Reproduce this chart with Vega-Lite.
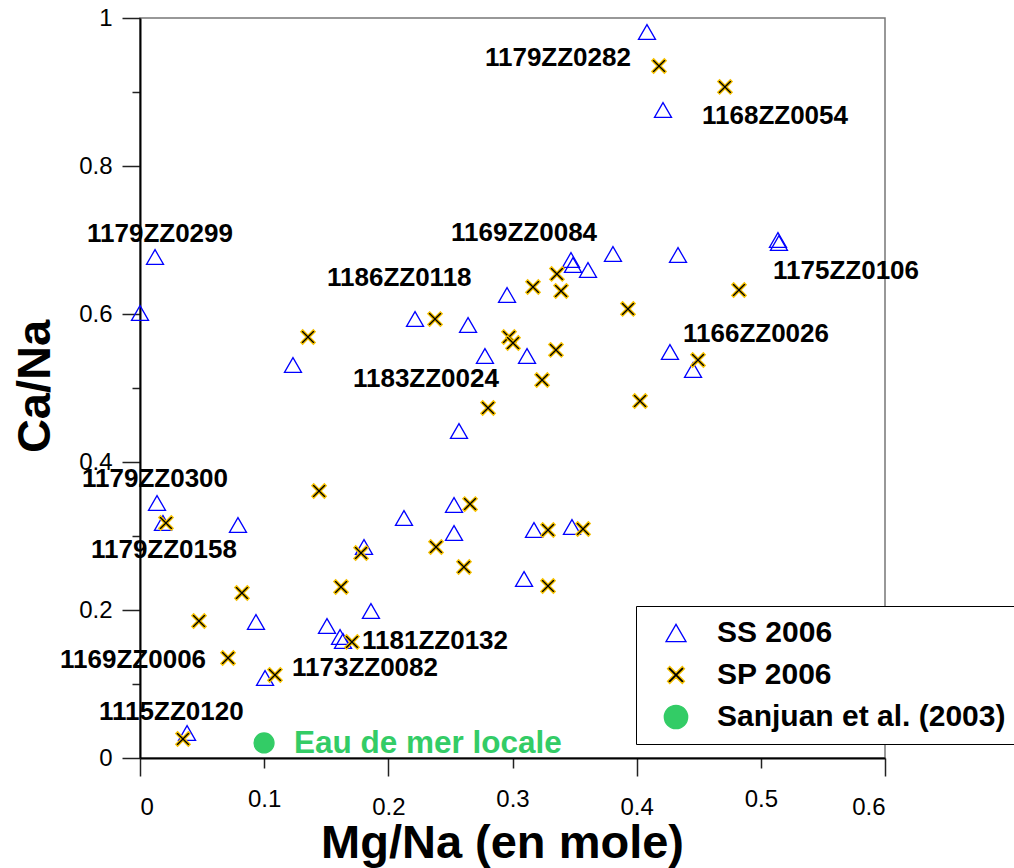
{
  "$schema": "https://vega.github.io/schema/vega-lite/v6.json",
  "width": 745,
  "height": 740,
  "autosize": {"type": "none"},
  "padding": {"left": 140, "top": 18, "right": 129, "bottom": 110},
  "background": "white",
  "config": {
    "view": {"stroke": "#777777", "strokeWidth": 1.5},
    "font": "Liberation Sans"
  },
  "datasets": {
    "pts": [
      {"series": "SS 2006", "mg": 0.4083, "ca": 0.9811},
      {"series": "SS 2006", "mg": 0.4212, "ca": 0.8757},
      {"series": "SS 2006", "mg": 0.0121, "ca": 0.6770},
      {"series": "SS 2006", "mg": 0.0, "ca": 0.6013},
      {"series": "SS 2006", "mg": 0.5138, "ca": 0.7000},
      {"series": "SS 2006", "mg": 0.5146, "ca": 0.6959},
      {"series": "SS 2006", "mg": 0.4333, "ca": 0.6797},
      {"series": "SS 2006", "mg": 0.3809, "ca": 0.6811},
      {"series": "SS 2006", "mg": 0.3471, "ca": 0.6730},
      {"series": "SS 2006", "mg": 0.3487, "ca": 0.6662},
      {"series": "SS 2006", "mg": 0.3608, "ca": 0.6595},
      {"series": "SS 2006", "mg": 0.2956, "ca": 0.6257},
      {"series": "SS 2006", "mg": 0.2215, "ca": 0.5932},
      {"series": "SS 2006", "mg": 0.2642, "ca": 0.5851},
      {"series": "SS 2006", "mg": 0.1232, "ca": 0.5311},
      {"series": "SS 2006", "mg": 0.2778, "ca": 0.5432},
      {"series": "SS 2006", "mg": 0.3117, "ca": 0.5432},
      {"series": "SS 2006", "mg": 0.4268, "ca": 0.5486},
      {"series": "SS 2006", "mg": 0.4454, "ca": 0.5243},
      {"series": "SS 2006", "mg": 0.2569, "ca": 0.4419},
      {"series": "SS 2006", "mg": 0.0137, "ca": 0.3446},
      {"series": "SS 2006", "mg": 0.0185, "ca": 0.3176},
      {"series": "SS 2006", "mg": 0.0789, "ca": 0.3149},
      {"series": "SS 2006", "mg": 0.2126, "ca": 0.3243},
      {"series": "SS 2006", "mg": 0.2529, "ca": 0.3419},
      {"series": "SS 2006", "mg": 0.2529, "ca": 0.3041},
      {"series": "SS 2006", "mg": 0.3173, "ca": 0.3081},
      {"series": "SS 2006", "mg": 0.3479, "ca": 0.3122},
      {"series": "SS 2006", "mg": 0.1804, "ca": 0.2851},
      {"series": "SS 2006", "mg": 0.3093, "ca": 0.2419},
      {"series": "SS 2006", "mg": 0.1860, "ca": 0.1986},
      {"series": "SS 2006", "mg": 0.0934, "ca": 0.1838},
      {"series": "SS 2006", "mg": 0.1506, "ca": 0.1784},
      {"series": "SS 2006", "mg": 0.1611, "ca": 0.1635},
      {"series": "SS 2006", "mg": 0.1635, "ca": 0.1581},
      {"series": "SS 2006", "mg": 0.1007, "ca": 0.1081},
      {"series": "SS 2006", "mg": 0.0379, "ca": 0.0338},
      {"series": "SP 2006", "mg": 0.4180, "ca": 0.9351},
      {"series": "SP 2006", "mg": 0.4711, "ca": 0.9068},
      {"series": "SP 2006", "mg": 0.3165, "ca": 0.6365},
      {"series": "SP 2006", "mg": 0.3358, "ca": 0.6541},
      {"series": "SP 2006", "mg": 0.3391, "ca": 0.6311},
      {"series": "SP 2006", "mg": 0.3930, "ca": 0.6068},
      {"series": "SP 2006", "mg": 0.2376, "ca": 0.5932},
      {"series": "SP 2006", "mg": 0.4824, "ca": 0.6324},
      {"series": "SP 2006", "mg": 0.1353, "ca": 0.5689},
      {"series": "SP 2006", "mg": 0.2972, "ca": 0.5689},
      {"series": "SP 2006", "mg": 0.3004, "ca": 0.5608},
      {"series": "SP 2006", "mg": 0.3350, "ca": 0.5514},
      {"series": "SP 2006", "mg": 0.3238, "ca": 0.5108},
      {"series": "SP 2006", "mg": 0.4494, "ca": 0.5378},
      {"series": "SP 2006", "mg": 0.2803, "ca": 0.4730},
      {"series": "SP 2006", "mg": 0.4027, "ca": 0.4824},
      {"series": "SP 2006", "mg": 0.1442, "ca": 0.3608},
      {"series": "SP 2006", "mg": 0.2658, "ca": 0.3432},
      {"series": "SP 2006", "mg": 0.0209, "ca": 0.3176},
      {"series": "SP 2006", "mg": 0.3286, "ca": 0.3081},
      {"series": "SP 2006", "mg": 0.3568, "ca": 0.3095},
      {"series": "SP 2006", "mg": 0.1780, "ca": 0.2770},
      {"series": "SP 2006", "mg": 0.2384, "ca": 0.2851},
      {"series": "SP 2006", "mg": 0.2609, "ca": 0.2581},
      {"series": "SP 2006", "mg": 0.1619, "ca": 0.2311},
      {"series": "SP 2006", "mg": 0.3286, "ca": 0.2324},
      {"series": "SP 2006", "mg": 0.0821, "ca": 0.2230},
      {"series": "SP 2006", "mg": 0.0475, "ca": 0.1851},
      {"series": "SP 2006", "mg": 0.1707, "ca": 0.1568},
      {"series": "SP 2006", "mg": 0.0709, "ca": 0.1351},
      {"series": "SP 2006", "mg": 0.1087, "ca": 0.1122},
      {"series": "SP 2006", "mg": 0.0346, "ca": 0.0257},
      {"series": "Sanjuan et al. (2003)", "mg": 0.0999, "ca": 0.0203}
    ],
    "labels": [
      {"name": "1179ZZ0282", "mg": 0.2778, "ca": 0.9466},
      {"name": "1168ZZ0054", "mg": 0.4526, "ca": 0.8682},
      {"name": "1179ZZ0299", "mg": -0.0427, "ca": 0.7081},
      {"name": "1169ZZ0084", "mg": 0.2505, "ca": 0.7088},
      {"name": "1186ZZ0118", "mg": 0.1506, "ca": 0.6493},
      {"name": "1175ZZ0106", "mg": 0.5098, "ca": 0.6581},
      {"name": "1166ZZ0026", "mg": 0.4373, "ca": 0.5730},
      {"name": "1183ZZ0024", "mg": 0.1715, "ca": 0.5128},
      {"name": "1179ZZ0300", "mg": -0.0467, "ca": 0.3770},
      {"name": "1179ZZ0158", "mg": -0.0395, "ca": 0.2811},
      {"name": "1181ZZ0132", "mg": 0.1788, "ca": 0.1581},
      {"name": "1169ZZ0006", "mg": -0.0644, "ca": 0.1324},
      {"name": "1173ZZ0082", "mg": 0.1224, "ca": 0.1216},
      {"name": "1115ZZ0120", "mg": -0.0330, "ca": 0.0622}
    ],
    "sea": [
      {"name": "Eau de mer locale", "mg": 0.1240, "ca": 0.0189}
    ]
  },
  "encoding": {
    "x": {
      "field": "mg", "type": "quantitative",
      "scale": {"domain": [0, 0.6], "nice": false, "zero": false},
      "axis": {
        "title": "Mg/Na (en mole)",
        "titleFont": "Liberation Sans", "titleFontSize": 47, "titleFontWeight": "bold", "titleColor": "black",
        "titleX": 362, "titleY": 99, "titleAlign": "center", "titleBaseline": "alphabetic",
        "values": [0, 0.1, 0.2, 0.3, 0.4, 0.5, 0.6],
        "format": "~g",
        "labelFont": "Liberation Sans", "labelFontSize": 24, "labelColor": "black",
        "labelPadding": 19,
        "tickSize": {"condition": {"test": "round(datum.value*10) % 2 == 0", "value": 18}, "value": 10},
        "tickColor": "#222222", "tickWidth": 1.5,
        "domainColor": "black", "domainWidth": 2,
        "grid": false
      }
    },
    "y": {
      "field": "ca", "type": "quantitative",
      "scale": {"domain": [0, 1], "nice": false, "zero": false},
      "axis": {
        "title": "Ca/Na",
        "titleFont": "Liberation Sans", "titleFontSize": 47, "titleFontWeight": "bold", "titleColor": "black",
        "titleX": -91, "titleY": 368, "titleAlign": "center", "titleBaseline": "alphabetic", "titleAngle": -90,
        "values": [0, 0.1, 0.2, 0.3, 0.4, 0.5, 0.6, 0.7, 0.8, 0.9, 1],
        "labelExpr": "round(datum.value*10) % 2 == 0 ? format(datum.value, '~g') : ''",
        "labelFont": "Liberation Sans", "labelFontSize": 24, "labelColor": "black",
        "labelPadding": 10,
        "tickSize": {"condition": {"test": "round(datum.value*10) % 2 == 0", "value": 18}, "value": 8},
        "tickColor": "#222222", "tickWidth": 1.5,
        "domainColor": "black", "domainWidth": 2,
        "grid": false
      }
    }
  },
  "layer": [
    {
      "data": {"name": "pts"},
      "mark": {"type": "point", "filled": true, "size": 290, "strokeWidth": 1.3, "opacity": 1},
      "encoding": {
        "shape": {
          "field": "series", "type": "nominal",
          "scale": {
            "domain": ["SS 2006", "SP 2006", "Sanjuan et al. (2003)"],
            "range": ["triangle-up", "M0,-0.22L0.63,-0.85L0.85,-0.63L0.22,0L0.85,0.63L0.63,0.85L0,0.22L-0.63,0.85L-0.85,0.63L-0.22,0L-0.85,-0.63L-0.63,-0.85Z", "M-1.17,0A1.17,1.17,0,1,1,1.17,0A1.17,1.17,0,1,1,-1.17,0Z"]
          },
          "legend": {
            "title": null, "orient": "none", "legendX": 496, "legendY": 588,
            "strokeColor": "black", "fillColor": "white", "padding": 12,
            "rowPadding": 12, "symbolOffset": 13, "labelOffset": 26,
            "labelFont": "Liberation Sans", "labelFontWeight": "bold", "labelFontSize": 30, "labelColor": "black",
            "labelLimit": 400, "symbolSize": 400, "symbolStrokeWidth": 1.3
          }
        },
        "fill": {
          "field": "series", "type": "nominal",
          "scale": {
            "domain": ["SS 2006", "SP 2006", "Sanjuan et al. (2003)"],
            "range": ["transparent", "black", "#33cc66"]
          }
        },
        "stroke": {
          "field": "series", "type": "nominal",
          "scale": {
            "domain": ["SS 2006", "SP 2006", "Sanjuan et al. (2003)"],
            "range": ["#0000ff", "#f5c000", "#33cc66"]
          }
        }
      }
    },
    {
      "data": {"name": "labels"},
      "mark": {"type": "text", "align": "left", "baseline": "middle", "font": "Liberation Sans", "fontWeight": "bold", "fontSize": 26, "color": "black"},
      "encoding": {"text": {"field": "name"}}
    },
    {
      "data": {"name": "sea"},
      "mark": {"type": "text", "align": "left", "baseline": "middle", "font": "Liberation Sans", "fontWeight": "bold", "fontSize": 31.5, "color": "#33cc66"},
      "encoding": {"text": {"field": "name"}}
    }
  ]
}
